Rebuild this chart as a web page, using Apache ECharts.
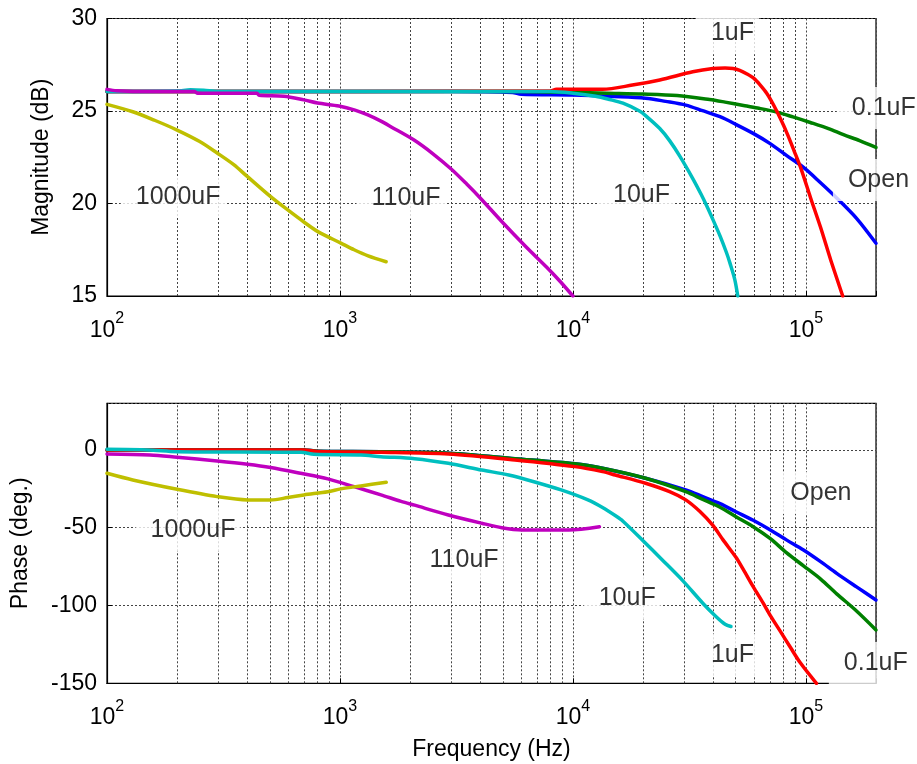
<!DOCTYPE html>
<html><head><meta charset="utf-8">
<script src="https://cdn.jsdelivr.net/npm/echarts@6/dist/echarts.min.js"></script>
<style>html,body{margin:0;padding:0;background:#fff}#c{width:917px;height:764px}</style>
</head><body><div id="c"></div>
<script>
const FONT = "'Liberation Sans', Arial, Helvetica, sans-serif";

// Series names / colours (MATLAB style)
const seriesNames = ['Open', '0.1uF', '1uF', '10uF', '110uF', '1000uF'];
const colors = ['#0000ff', '#008000', '#ff0000', '#00bfbf', '#bf00bf', '#bfbf00'];

// Magnitude (dB) vs frequency (Hz)
const magOpen = [[100,26.05],[3000,26.05],[5500,26.0],[6000,25.9],[10000,25.86],[15000,25.78],[20500,25.69],[25000,25.52],[30500,25.32],[36000,25.02],[42800,24.69],[50000,24.28],[59400,23.79],[70000,23.25],[82500,22.6],[97700,21.95],[115000,21.15],[135600,20.3],[165000,19.2],[200000,17.85]];
const mag01 = [[100,26.05],[6000,26.05],[10000,26.0],[14000,25.96],[20000,25.92],[28000,25.84],[38600,25.62],[45000,25.48],[54000,25.3],[62000,25.16],[75000,24.94],[88000,24.68],[104500,24.38],[125000,24.05],[145000,23.72],[170000,23.4],[200000,23.03]];
const mag1 = [[100,26.05],[8000,26.08],[8500,26.17],[13400,26.17],[18000,26.4],[23600,26.68],[32700,27.12],[39900,27.3],[45000,27.33],[48600,27.3],[52000,27.2],[55900,27.0],[60000,26.75],[63700,26.4],[68000,25.95],[72500,25.35],[78000,24.55],[83300,23.75],[89000,22.85],[94900,21.95],[104800,20.3],[115700,18.7],[127800,16.95],[143900,15.0]];
const mag10 = [[100,26.05],[200,26.08],[228,26.15],[260,26.12],[300,26.05],[8000,26.05],[10000,25.96],[12500,25.8],[14400,25.62],[16400,25.42],[19300,25.0],[20500,24.75],[23600,24.05],[26000,23.4],[28800,22.55],[32700,21.35],[35500,20.5],[37600,19.85],[40000,19.1],[42800,18.25],[45600,17.35],[47300,16.75],[49500,15.9],[51000,15.0]];
const mag110 = [[100,26.17],[110,26.1],[150,26.05],[237,26.05],[245,25.96],[440,25.96],[450,25.85],[575,25.8],[700,25.6],[802,25.43],[990,25.27],[1160,25.05],[1310,24.8],[1500,24.45],[1660,24.14],[2080,23.43],[2500,22.7],[3010,21.85],[3500,21.05],[4000,20.3],[4970,19.0],[6300,17.65],[7700,16.57],[8800,15.8],[10000,15.0]];
const mag1000 = [[100,25.36],[129,24.96],[160,24.5],[200,23.97],[250,23.35],[297,22.73],[350,22.1],[401,21.45],[504,20.37],[597,19.65],[700,19.0],[804,18.48],[1009,17.86],[1150,17.5],[1321,17.17],[1578,16.85]];

// Phase (deg.) vs frequency (Hz)
const phOpen = [[100,0],[700,0],[800,-0.8],[1500,-1.1],[2920,-2.1],[5640,-5.6],[10200,-8.9],[13400,-11.8],[20500,-18.2],[30500,-25.7],[36100,-30.0],[42800,-34.5],[50100,-39.7],[59400,-45.2],[70400,-51.4],[82500,-57.8],[97700,-64.3],[115700,-71.8],[135600,-79.3],[165000,-88.0],[200000,-96.4]];
const ph01 = [[100,0],[700,0],[800,-0.8],[1500,-1.1],[2920,-2.1],[5640,-5.6],[10200,-8.9],[13400,-11.8],[20500,-18.2],[30500,-26.8],[36100,-31.8],[42800,-36.8],[50100,-42.9],[59400,-49.3],[70400,-57.0],[82500,-66.0],[97700,-74.5],[115700,-83.0],[135600,-92.5],[165000,-103.5],[200000,-115.7]];
const ph1 = [[100,0],[700,0],[800,-1.0],[1500,-1.5],[2920,-2.6],[5640,-6.4],[10200,-10.7],[13400,-13.9],[15200,-16.1],[20500,-21.4],[26000,-26.8],[30500,-32.1],[35100,-39.6],[39900,-48.5],[44100,-57.8],[50100,-69.0],[53700,-76.5],[59400,-87.9],[65600,-98.5],[70400,-106.5],[77600,-116.5],[85900,-127.0],[94800,-137.0],[111000,-150.0]];
const ph10 = [[100,0.4],[150,0],[200,-1.1],[681,-1.5],[773,-2.8],[1230,-3.2],[1500,-4.3],[2090,-5.6],[2920,-8.6],[4060,-12.9],[5300,-16.1],[6800,-20.4],[8900,-25.7],[11600,-32.1],[13400,-37.0],[15300,-42.5],[16400,-45.8],[19900,-58.0],[24200,-70.7],[29600,-84.0],[36100,-98.5],[41100,-107.0],[45000,-112.0],[47700,-113.5]];
const ph110 = [[100,-2.6],[153,-3.2],[200,-4.7],[297,-7.1],[401,-9.2],[504,-11.3],[678,-15.0],[887,-18.6],[1150,-23.6],[1500,-28.9],[1830,-33.0],[2090,-35.5],[2920,-41.8],[4060,-47.1],[4950,-50.0],[6040,-51.4],[9600,-51.4],[13000,-49.3]];
const ph1000 = [[100,-15.0],[129,-19.3],[200,-25.3],[297,-30.0],[401,-32.1],[504,-32.1],[597,-30.6],[700,-28.9],[887,-26.8],[1009,-25.0],[1230,-23.1],[1580,-20.8]];

// Text annotations: [text, frequency, value]
const magLabels = [['1000uF',202,20.24],['110uF',1920,20.2],['10uF',19700,20.35],['1uF',48400,29.1],['0.1uF',216000,25.05],['Open',205000,21.16]];
const phaseLabels = [['Open',116000,-28.9],['1000uF',234,-52.7],['110uF',3410,-72],['10uF',17100,-96.4],['1uF',48400,-133],['0.1uF',199600,-138.2]];

const magData = [magOpen, mag01, mag1, mag10, mag110, mag1000];
const phData = [phOpen, ph01, ph1, ph10, ph110, ph1000];

const F_MIN = 100, F_MAX = 200000;
const minorFreqs = [];
for (let d = 100; d < F_MAX; d *= 10) for (let m = 2; m <= 9; m++) if (d * m < F_MAX) minorFreqs.push(d * m);

const gridLine = { type: [2, 2], color: '#444', width: 1 };
const PAD = [10, 5, 6, 15];

function xAxisFor(gi, withName) {
  return {
    type: 'log', logBase: 10, gridIndex: gi, min: F_MIN, max: F_MAX,
    axisLine: { show: true, onZero: false, lineStyle: { color: '#000', width: 1.2 } },
    axisTick: { show: true, inside: true, length: 5, lineStyle: { color: '#000' } },
    splitLine: { show: true, lineStyle: gridLine },
    axisLabel: {
      margin: 23, color: '#000', fontFamily: FONT,
      formatter: v => {
        const l = Math.log10(v), e = Math.round(l);
        if (Math.abs(l - e) > 1e-6) return '';
        return '{b|10}{s|' + e + '}';
      },
      rich: {
        b: { fontSize: 23, fontFamily: FONT, color: '#000', verticalAlign: 'bottom', lineHeight: 23 },
        s: { fontSize: 16, fontFamily: FONT, color: '#000', verticalAlign: 'bottom', padding: [0, 0, 15, 0], lineHeight: 16 }
      }
    },
    name: withName ? 'Frequency (Hz)' : '', nameLocation: 'middle', nameGap: 55,
    nameTextStyle: { fontSize: 23, fontFamily: FONT, color: '#000' }
  };
}

function yAxisFor(gi, min, max, name, gap) {
  return {
    type: 'value', gridIndex: gi, min: min, max: max, interval: 5 * (gi === 0 ? 1 : 10),
    axisLine: { show: true, onZero: false, lineStyle: { color: '#000', width: 1.2 } },
    axisTick: { show: true, inside: true, length: 5, lineStyle: { color: '#000' } },
    splitLine: { show: true, lineStyle: gridLine },
    axisLabel: { fontSize: 23, fontFamily: FONT, color: '#000', margin: 10, showMaxLabel: gi === 0 },
    name: name, nameLocation: 'middle', nameGap: gap,
    nameTextStyle: { fontSize: 23, fontFamily: FONT, color: '#000' }
  };
}

const series = [];
[magData, phData].forEach((set, gi) => {
  set.forEach((d, i) => {
    const s = {
      name: seriesNames[i], type: 'line', xAxisIndex: gi, yAxisIndex: gi,
      data: d, showSymbol: false, smooth: 0.3, z: 3,
      lineStyle: { color: colors[i], width: 3.5, join: 'round', cap: 'round' }, itemStyle: { color: colors[i] },
      clip: true
    };
    if (i === 0) {
      s.markLine = {
        silent: true, symbol: 'none', z: 1, animation: false,
        label: { show: false }, lineStyle: gridLine,
        data: minorFreqs.map(f => ({ xAxis: f }))
      };
    }
    series.push(s);
  });
});

[magLabels, phaseLabels].forEach((labs, gi) => {
  series.push({
    type: 'scatter', xAxisIndex: gi, yAxisIndex: gi, clip: false, z: 10,
    symbolSize: 1, itemStyle: { color: 'rgba(0,0,0,0)' }, silent: true,
    data: labs.map(l => [l[1], l[2], l[0]]),
    label: {
      show: true, position: 'inside', formatter: p => p.data[2],
      fontSize: 25, fontFamily: FONT, color: '#000', lineHeight: 26,
      backgroundColor: '#fff', padding: PAD,
      offset: [(PAD[1] - PAD[3]) / 2, (PAD[2] - PAD[0]) / 2]
    }
  });
});

const chart = echarts.init(document.getElementById('c'), null, { renderer: 'canvas' });
chart.setOption({
  animation: false,
  backgroundColor: '#fff',
  grid: [
    { left: 107, top: 18.5, width: 769, height: 277.5, show: true, borderColor: '#000', borderWidth: 1.2, backgroundColor: '#fff' },
    { left: 107, top: 403.3, width: 769, height: 280, show: true, borderColor: '#000', borderWidth: 1.2, backgroundColor: '#fff' }
  ],
  xAxis: [xAxisFor(0, false), xAxisFor(1, true)],
  yAxis: [yAxisFor(0, 15, 30, 'Magnitude (dB)', 54), yAxisFor(1, -150, 30, 'Phase (deg.)', 75)],
  series: series
});
</script></body></html>
